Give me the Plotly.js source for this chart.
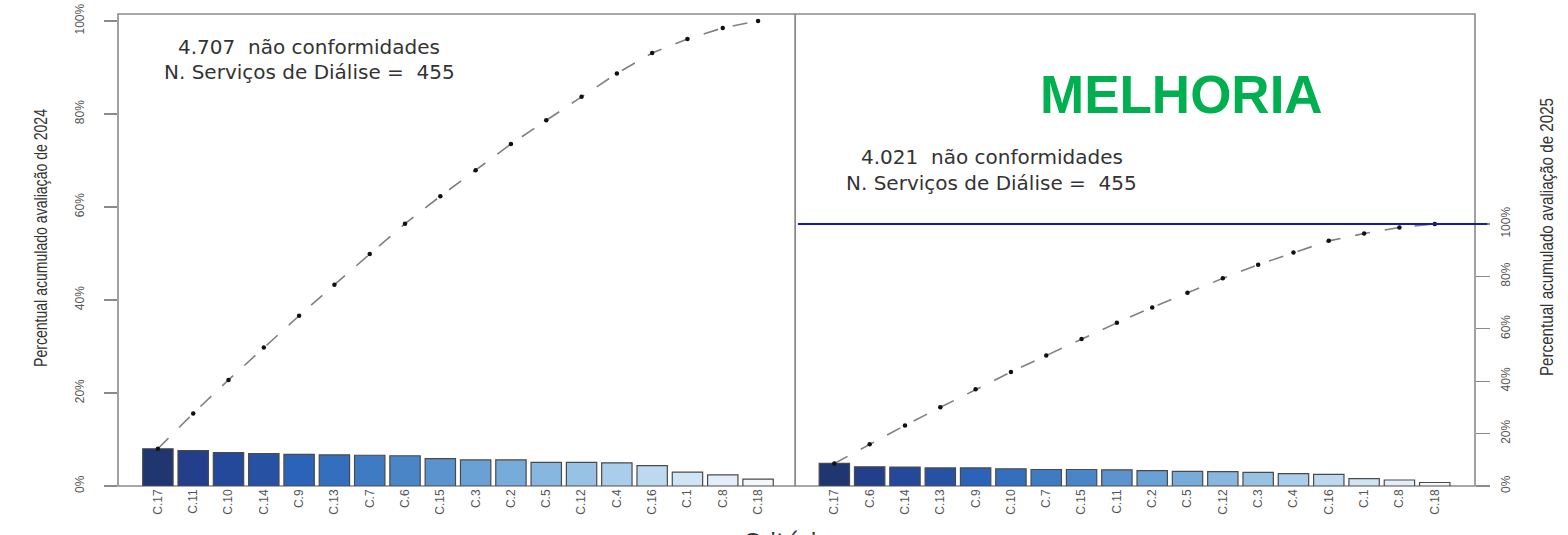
<!DOCTYPE html>
<html>
<head>
<meta charset="utf-8">
<script src="https://cdn.plot.ly/plotly-3.0.1.min.js"></script>
<style>html,body{margin:0;padding:0;background:#fff;}</style>
</head>
<body>
<div id="chart" style="width:1568px;height:535px;"></div>
<script>
// ---- Data ----
const cat2024 = ['C.17','C.11','C.10','C.14','C.9','C.13','C.7','C.6','C.15','C.3','C.2','C.5','C.12','C.4','C.16','C.1','C.8','C.18'];
const count2024 = [377, 358, 339, 329, 320, 315, 311, 306, 278, 264, 264, 240, 240, 235, 207, 141, 113, 70];
const cat2025 = ['C.17','C.6','C.14','C.13','C.9','C.10','C.7','C.15','C.11','C.2','C.5','C.12','C.3','C.4','C.16','C.1','C.8','C.18'];
const count2025 = [346, 294, 290, 277, 277, 265, 253, 253, 249, 237, 225, 221, 209, 189, 177, 113, 92, 54];
const services2024 = 455;
const services2025 = 455;
const pctTicks = [0, 20, 40, 60, 80, 100];
const pctLabels = ['0%', '20%', '40%', '60%', '80%', '100%'];

// ---- Styles ----
const barColors = ['#1f3671','#233f8c','#24489a','#2752a4','#2b63b8','#346fbe','#3f7bc3','#4a85c8','#5a93ce',
                   '#6aa1d4','#77abd9','#87b6de','#98c2e4','#a9cdea','#bcd9f0','#cfe4f5','#e2eef9','#f4f8fc'];
const narrow = '"Liberation Sans Narrow", "Arial Narrow", "Liberation Sans", Arial, sans-serif';
const grey = '#8a8a8a';

function cumPct(arr) {
  const tot = arr.reduce((a, b) => a + b, 0);
  let s = 0;
  return arr.map(v => { s += v; return s / tot * 100; });
}
function fmt(n) { return String(n).replace(/\B(?=(\d{3})+(?!\d))/g, '.'); }

const total2024 = count2024.reduce((a, b) => a + b, 0);
const total2025 = count2025.reduce((a, b) => a + b, 0);

const top24 = 101.5;   // cumulative axis top (left panel)
const top25 = 180.15;  // cumulative axis top (right panel)

const traces = [
  { type: 'bar', x: cat2024, y: count2024, xaxis: 'x', yaxis: 'y', width: 0.86,
    marker: { color: barColors, line: { color: '#4a4a4a', width: 1.2 } }, hoverinfo: 'x+y' },
  { type: 'scatter', mode: 'lines+markers', x: cat2024, y: cumPct(count2024), xaxis: 'x', yaxis: 'y2',
    line: { color: '#808080', width: 1.6, dash: 'longdash' }, marker: { color: '#111', size: 4.5 } },
  { type: 'bar', x: cat2025, y: count2025, xaxis: 'x2', yaxis: 'y3', width: 0.86,
    marker: { color: barColors, line: { color: '#4a4a4a', width: 1.2 } }, hoverinfo: 'x+y' },
  { type: 'scatter', mode: 'lines+markers', x: cat2025, y: cumPct(count2025), xaxis: 'x2', yaxis: 'y4',
    line: { color: '#808080', width: 1.6, dash: 'longdash' }, marker: { color: '#111', size: 4.5 } }
];

const tickFont = { family: narrow, size: 12, color: '#555' };
const titleFont = { family: narrow, size: 19, color: '#333' };
const annFont = { family: 'DejaVu Sans', size: 20, color: '#333' };
const split = 0.499;

function ann(x, y, text, font) {
  return { xref: 'paper', yref: 'paper', x: x, y: y, xanchor: 'center', yanchor: 'middle',
           showarrow: false, text: text, font: font };
}

const layout = {
  width: 1568, height: 535,
  margin: { l: 118, r: 93, t: 14, b: 49 },
  paper_bgcolor: '#fff', plot_bgcolor: '#fff',
  showlegend: false, bargap: 0,
  xaxis: { domain: [0, split], anchor: 'y', type: 'category', range: [-1.13, 18.05],
           tickangle: -90, tickfont: tickFont, showline: false, showgrid: false, zeroline: false, ticks: '' },
  yaxis: { domain: [0, 1], anchor: 'x', range: [0, total2024 * top24 / 100], visible: false, fixedrange: true },
  yaxis2: { overlaying: 'y', anchor: 'x', side: 'left', range: [0, top24],
            tickvals: pctTicks, ticktext: pctLabels, tickangle: -90, tickfont: tickFont,
            ticks: 'outside', ticklen: 13, tickcolor: grey, tickwidth: 1.3,
            showline: false, showgrid: false, zeroline: false, ticklabelstandoff: 15,
            title: { text: 'Percentual acumulado avaliação de 2024', font: titleFont, standoff: 20 } },
  xaxis2: { domain: [split, 1], anchor: 'y3', type: 'category', range: [-1.11, 18.14],
            tickangle: -90, tickfont: tickFont, showline: false, showgrid: false, zeroline: false, ticks: '' },
  yaxis3: { domain: [0, 1], anchor: 'x2', range: [0, total2025 * top25 / 100], visible: false, fixedrange: true },
  yaxis4: { overlaying: 'y3', anchor: 'x2', side: 'right', range: [0, top25],
            tickvals: pctTicks, ticktext: pctLabels, tickangle: -90, tickfont: tickFont,
            ticks: 'outside', ticklen: 14, tickcolor: grey, tickwidth: 1.3,
            showline: false, showgrid: false, zeroline: false, ticklabelstandoff: 6,
            title: { text: 'Percentual acumulado avaliação de 2025', font: titleFont, standoff: 27 } },
  shapes: [
    { type: 'rect', xref: 'paper', yref: 'paper', x0: 0, x1: 1, y0: 0, y1: 1,
      line: { color: grey, width: 1.6 }, layer: 'below' },
    { type: 'line', xref: 'paper', yref: 'paper', x0: split, x1: split, y0: 0, y1: 1,
      line: { color: grey, width: 1.8 } },
    { type: 'line', xref: 'paper', yref: 'y4', x0: split + 0.002, x1: 1.009, y0: 100, y1: 100,
      line: { color: '#1c1c9c', width: 2 } }
  ],
  annotations: [
    ann(0.1408, 0.930, fmt(total2024) + '  não conformidades', annFont),
    ann(0.1408, 0.877, 'N. Serviços de Diálise =  ' + services2024, annFont),
    ann(0.644, 0.697, fmt(total2025) + '  não conformidades', annFont),
    ann(0.644, 0.642, 'N. Serviços de Diálise =  ' + services2025, annFont),
    ann(0.784, 0.8305, '<b>MELHORIA</b>', { family: 'Liberation Sans, Arial, sans-serif', size: 53, color: '#00b050' }),
    { xref: 'paper', yref: 'paper', x: 0.493, y: -0.087, xanchor: 'center', yanchor: 'top', showarrow: false,
      text: 'Critério', font: { family: 'DejaVu Sans', size: 24, color: '#333' } }
  ]
};

Plotly.newPlot('chart', traces, layout, { staticPlot: true, displayModeBar: false }).then(gd => {
  // condense the axis titles to the length and place they have in the reference
  [['.g-y2title', 258, -12], ['.g-y4title', 278, -13]].forEach(([sel, len, dy]) => {
    const g = gd.querySelector(sel);
    if (!g) return;
    const t = g.querySelector('text');
    if (t) { t.setAttribute('textLength', len); t.setAttribute('lengthAdjust', 'spacingAndGlyphs'); }
    const tr = g.getAttribute('transform') || '';
    g.setAttribute('transform', 'translate(0,' + dy + ') ' + tr);
  });
});
</script>
</body>
</html>
